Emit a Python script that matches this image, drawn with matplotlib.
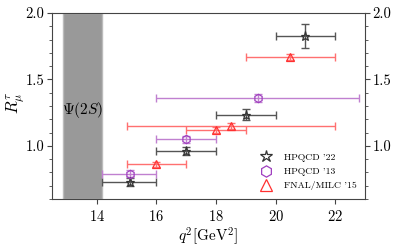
import matplotlib
matplotlib.use("Agg")
import matplotlib.pyplot as plt
import numpy as np

plt.rcParams['font.family'] = 'serif'
plt.rcParams['font.serif'] = ['cmr10', 'DejaVu Serif']
plt.rcParams['mathtext.fontset'] = 'cm'
plt.rcParams['axes.formatter.use_mathtext'] = True

# HPQCD '22
h22_x = [15.1, 17.0, 19.0, 21.0]
h22_xlo = [14.18, 16.0, 18.0, 20.0]
h22_xhi = [16.0, 18.0, 20.0, 22.0]
h22_y = [0.73, 0.96, 1.235, 1.83]
h22_yerr = [0.03, 0.03, 0.04, 0.09]

# HPQCD '13
h13_x = [15.1, 17.0, 19.4]
h13_xlo = [14.18, 16.0, 16.0]
h13_xhi = [16.0, 18.0, 22.8]
h13_y = [0.79, 1.05, 1.36]
h13_yerr = [0.025, 0.025, 0.03]

# FNAL/MILC '15
fm_x = [16.0, 18.0, 18.5, 20.5]
fm_xlo = [15.0, 17.0, 15.0, 19.0]
fm_xhi = [17.0, 19.0, 22.0, 22.0]
fm_y = [0.86, 1.12, 1.15, 1.67]
fm_yerr = [0.02, 0.02, 0.02, 0.025]

band = [12.86, 14.18]
band_label = r'$\Psi(2S)$'

fig = plt.figure(figsize=(3.99, 2.47), dpi=100)
ax = fig.add_axes([52/399, 1-199/247, (365-52)/399, (199-13)/247])

ax.axvspan(band[0], band[1], color='#999999', ec='#bbbbbb', lw=1, zorder=0)
ax.text(np.mean(band), 1.27, band_label, ha='center', va='center', fontsize=11)

def draw(x, xlo, xhi, y, yerr, color, lcolor, marker, ms, label):
    x = np.array(x); y = np.array(y)
    xerr = [x - np.array(xlo), np.array(xhi) - x]
    ax.errorbar(x, y, xerr=xerr, yerr=yerr, fmt='none', ecolor=lcolor,
                elinewidth=1.0, capsize=3, capthick=1.0, zorder=2)
    ax.plot(x, y, ls='none', marker=marker, ms=ms, mfc='none', mec=color,
            mew=0.9, zorder=3, label=label)

draw(h22_x, h22_xlo, h22_xhi, h22_y, h22_yerr, '#333333', '#555555', '*', 6.5, "HPQCD '22")
draw(h13_x, h13_xlo, h13_xhi, h13_y, h13_yerr, '#a040c0', '#c080d0', 'h', 6, "HPQCD '13")
draw(fm_x, fm_xlo, fm_xhi, fm_y, fm_yerr, '#ff3030', '#ff7070', '^', 6, "FNAL/MILC '15")

ax.set_xlim(12.5, 23)
ax.set_ylim(0.6, 2.0)
ax.set_xticks([14, 16, 18, 20, 22])
ax.set_yticks([1.0, 1.5, 2.0])
ax.set_yticks(np.arange(0.6, 2.0, 0.1), minor=True)
ax.yaxis.set_major_formatter(matplotlib.ticker.FormatStrFormatter('%.1f'))
ax.tick_params(axis='both', which='both', direction='out', labelsize=10.5, color='#444444')
ax.tick_params(axis='y', which='both', right=True, labelright=True, pad=2)
ax.tick_params(axis='x', which='minor', bottom=False)
for s in ax.spines.values():
    s.set_color('#444444')
ax.set_xlabel(r'$q^2[\mathrm{GeV}^2]$', fontsize=11, labelpad=1)
ax.set_ylabel(r'$R^{\tau}_{\mu}$', fontsize=12, va='center')
ax.yaxis.set_label_coords(-0.115, 0.52)

ax.legend(loc='lower right', frameon=False, fontsize=7, handletextpad=0.8,
          borderaxespad=0.5, labelspacing=0.55, markerscale=1.35)

fig.savefig('out.png', dpi=100)
